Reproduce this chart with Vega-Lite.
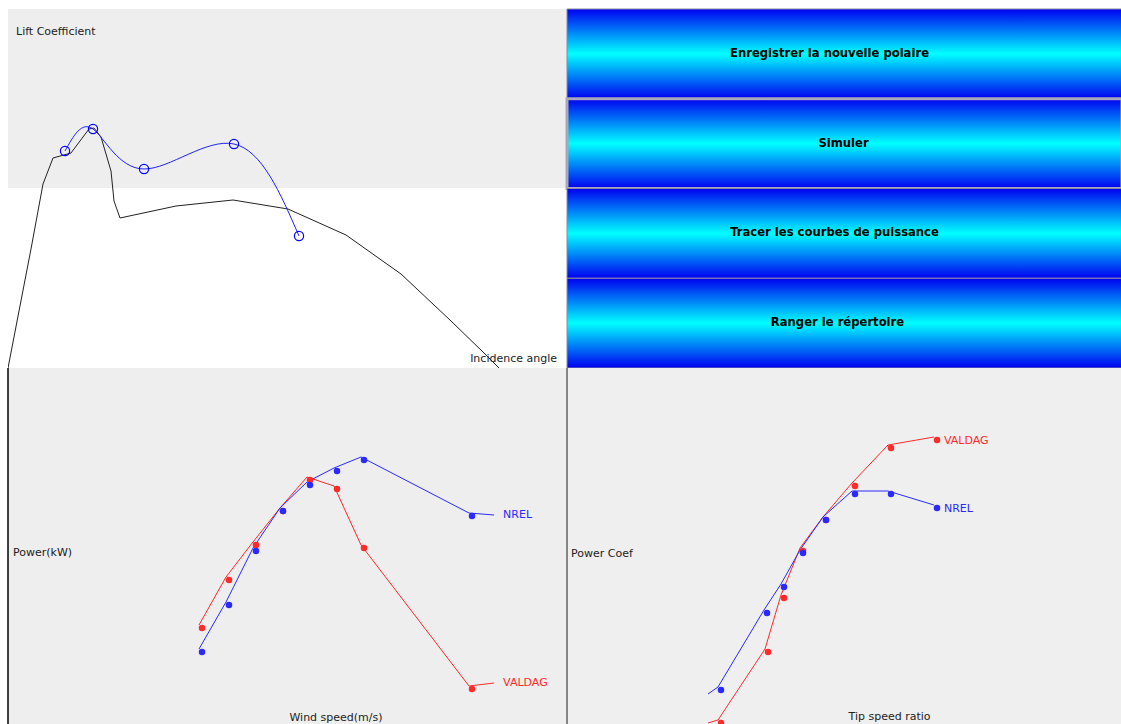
{
  "$schema": "https://vega.github.io/schema/vega-lite/v6.json",
  "background": "white",
  "padding": {"left": 7, "top": 8, "right": 0, "bottom": 0},
  "spacing": 0,
  "bounds": "flush",
  "columns": 2,
  "config": {
    "view": {"stroke": null},
    "axis": {"disable": true},
    "font": "DejaVu Sans"
  },
  "datasets": {
    "lift_ref": [
      {"angle": -3.3, "cl": -0.4467},
      {"angle": -1.0, "cl": 0.3467},
      {"angle": 0.2, "cl": 0.78},
      {"angle": 1.2, "cl": 0.9533},
      {"angle": 3.0, "cl": 0.9867},
      {"angle": 4.8, "cl": 1.1467},
      {"angle": 5.3, "cl": 1.1533},
      {"angle": 6.0, "cl": 1.0933},
      {"angle": 7.0, "cl": 0.8667},
      {"angle": 7.3, "cl": 0.6667},
      {"angle": 7.9, "cl": 0.5533},
      {"angle": 13.5, "cl": 0.6333},
      {"angle": 19.2, "cl": 0.6733},
      {"angle": 24.7, "cl": 0.6133},
      {"angle": 30.5, "cl": 0.44},
      {"angle": 36.0, "cl": 0.18},
      {"angle": 41.0, "cl": -0.1333},
      {"angle": 44.3, "cl": -0.3467},
      {"angle": 46.0, "cl": -0.46}
    ],
    "lift_new": [
      {"angle": 2.4, "cl": 1.0},
      {"angle": 5.2, "cl": 1.1467},
      {"angle": 10.3, "cl": 0.88},
      {"angle": 19.3, "cl": 1.0467},
      {"angle": 25.8, "cl": 0.4333}
    ],
    "buttons": [
      {"label": "Enregistrer la nouvelle polaire"},
      {"label": "Simuler"},
      {"label": "Tracer les courbes de puissance"},
      {"label": "Ranger le répertoire"}
    ],
    "power": [
      {"series": "VALDAG", "ws": 5, "p": 3.88, "role": "pt"},
      {"series": "VALDAG", "ws": 6, "p": 5.80, "role": "pt"},
      {"series": "VALDAG", "ws": 7, "p": 7.20, "role": "pt"},
      {"series": "VALDAG", "ws": 8, "p": 8.56, "role": "pt"},
      {"series": "VALDAG", "ws": 9, "p": 9.80, "role": "pt"},
      {"series": "VALDAG", "ws": 10, "p": 9.44, "role": "pt"},
      {"series": "VALDAG", "ws": 11, "p": 7.08, "role": "pt"},
      {"series": "VALDAG", "ws": 15, "p": 1.44, "role": "pt"},
      {"series": "VALDAG", "ws": 15.93, "p": 1.56, "role": "end"},
      {"series": "NREL", "ws": 5, "p": 2.92, "role": "pt"},
      {"series": "NREL", "ws": 6, "p": 4.80, "role": "pt"},
      {"series": "NREL", "ws": 7, "p": 6.96, "role": "pt"},
      {"series": "NREL", "ws": 8, "p": 8.56, "role": "pt"},
      {"series": "NREL", "ws": 9, "p": 9.60, "role": "pt"},
      {"series": "NREL", "ws": 10, "p": 10.16, "role": "pt"},
      {"series": "NREL", "ws": 11, "p": 10.60, "role": "pt"},
      {"series": "NREL", "ws": 15, "p": 8.36, "role": "pt"},
      {"series": "NREL", "ws": 15.93, "p": 8.28, "role": "end"}
    ],
    "cp": [
      {"series": "VALDAG", "tsr": 2.88, "cp": -0.0014, "role": "end"},
      {"series": "VALDAG", "tsr": 3.08, "cp": 0.0029, "role": "pt"},
      {"series": "VALDAG", "tsr": 4.02, "cp": 0.1043, "role": "pt"},
      {"series": "VALDAG", "tsr": 4.34, "cp": 0.1814, "role": "pt"},
      {"series": "VALDAG", "tsr": 4.72, "cp": 0.2486, "role": "pt"},
      {"series": "VALDAG", "tsr": 5.18, "cp": 0.2929, "role": "pt"},
      {"series": "VALDAG", "tsr": 5.76, "cp": 0.3414, "role": "pt"},
      {"series": "VALDAG", "tsr": 6.48, "cp": 0.3957, "role": "pt"},
      {"series": "VALDAG", "tsr": 7.40, "cp": 0.4071, "role": "pt"},
      {"series": "NREL", "tsr": 2.88, "cp": 0.04, "role": "end"},
      {"series": "NREL", "tsr": 3.08, "cp": 0.05, "role": "pt"},
      {"series": "NREL", "tsr": 4.00, "cp": 0.16, "role": "pt"},
      {"series": "NREL", "tsr": 4.34, "cp": 0.1971, "role": "pt"},
      {"series": "NREL", "tsr": 4.72, "cp": 0.2457, "role": "pt"},
      {"series": "NREL", "tsr": 5.18, "cp": 0.2929, "role": "pt"},
      {"series": "NREL", "tsr": 5.76, "cp": 0.33, "role": "pt"},
      {"series": "NREL", "tsr": 6.48, "cp": 0.33, "role": "pt"},
      {"series": "NREL", "tsr": 7.40, "cp": 0.31, "role": "pt"}
    ]
  },
  "concat": [
    {
      "width": 559,
      "height": 359,
      "layer": [
        {
          "data": {"values": [{}]},
          "mark": {"type": "rect", "color": "#eeeeee"},
          "encoding": {
            "x": {"datum": -3.3, "type": "quantitative", "scale": {"domain": [-3.3, 52.6], "nice": false, "zero": false}},
            "x2": {"datum": 52.6},
            "y": {"datum": 0.7533, "type": "quantitative", "scale": {"domain": [-0.4467, 1.9467], "nice": false, "zero": false}},
            "y2": {"datum": 1.9467}
          }
        },
        {
          "data": {"name": "lift_ref"},
          "mark": {"type": "line", "color": "#222222", "strokeWidth": 1, "clip": true},
          "encoding": {
            "x": {"field": "angle", "type": "quantitative", "scale": {"domain": [-3.3, 52.6], "nice": false, "zero": false}},
            "y": {"field": "cl", "type": "quantitative", "scale": {"domain": [-0.4467, 1.9467], "nice": false, "zero": false}}
          }
        },
        {
          "data": {"name": "lift_new"},
          "mark": {"type": "line", "color": "#2020ff", "strokeWidth": 1, "interpolate": "natural", "clip": true},
          "encoding": {
            "x": {"field": "angle", "type": "quantitative", "scale": {"domain": [-3.3, 52.6], "nice": false, "zero": false}},
            "y": {"field": "cl", "type": "quantitative", "scale": {"domain": [-0.4467, 1.9467], "nice": false, "zero": false}}
          }
        },
        {
          "data": {"name": "lift_new"},
          "mark": {"type": "point", "filled": false, "size": 85, "color": "#0000ff", "strokeWidth": 1.2, "opacity": 1},
          "encoding": {
            "x": {"field": "angle", "type": "quantitative", "scale": {"domain": [-3.3, 52.6], "nice": false, "zero": false}},
            "y": {"field": "cl", "type": "quantitative", "scale": {"domain": [-0.4467, 1.9467], "nice": false, "zero": false}}
          }
        },
        {
          "data": {"values": [{}]},
          "mark": {"type": "text", "text": "Lift Coefficient", "align": "left", "baseline": "middle", "fontSize": 11, "color": "#222222", "font": "DejaVu Sans"},
          "encoding": {
            "x": {"datum": -2.5, "type": "quantitative", "scale": {"domain": [-3.3, 52.6], "nice": false, "zero": false}},
            "y": {"datum": 1.7933, "type": "quantitative", "scale": {"domain": [-0.4467, 1.9467], "nice": false, "zero": false}}
          }
        },
        {
          "data": {"values": [{}]},
          "mark": {"type": "text", "text": "Incidence angle", "align": "right", "baseline": "middle", "fontSize": 11, "color": "#222222", "font": "DejaVu Sans"},
          "encoding": {
            "x": {"datum": 51.6, "type": "quantitative", "scale": {"domain": [-3.3, 52.6], "nice": false, "zero": false}},
            "y": {"datum": -0.3867, "type": "quantitative", "scale": {"domain": [-0.4467, 1.9467], "nice": false, "zero": false}}
          }
        }
      ]
    },
    {
      "width": 555,
      "height": 359,
      "data": {"name": "buttons"},
      "layer": [
        {
          "mark": {
            "type": "rect",
            "fill": {
              "x1": 0, "y1": 0, "x2": 0, "y2": 1,
              "gradient": "linear",
              "stops": [
                {"offset": 0, "color": "#0000f0"},
                {"offset": 0.5, "color": "#00ffff"},
                {"offset": 1, "color": "#0000f0"}
              ]
            }
          },
          "encoding": {
            "x": {"datum": 0, "type": "quantitative", "scale": {"domain": [0, 1], "nice": false, "zero": false}},
            "x2": {"datum": 1},
            "y": {"field": "label", "type": "nominal", "sort": null, "scale": {"type": "band", "paddingInner": 0, "paddingOuter": 0}},
            "stroke": {"condition": {"test": "datum.label === 'Simuler'", "value": "#a8a8b8"}, "value": "#8a8aa0"},
            "strokeWidth": {"condition": {"test": "datum.label === 'Simuler'", "value": 3}, "value": 1}
          }
        },
        {
          "transform": [{"filter": "datum.label === 'Enregistrer la nouvelle polaire'"}],
          "mark": {"type": "text", "fontWeight": "bold", "fontSize": 11.6, "color": "#000000", "font": "DejaVu Sans", "align": "center", "baseline": "middle", "dx": -15},
          "encoding": {
            "x": {"datum": 0.5, "type": "quantitative", "scale": {"domain": [0, 1], "nice": false, "zero": false}},
            "y": {"field": "label", "type": "nominal", "sort": null, "scale": {"type": "band", "paddingInner": 0, "paddingOuter": 0, "domain": ["Enregistrer la nouvelle polaire", "Simuler", "Tracer les courbes de puissance", "Ranger le répertoire"]}},
            "text": {"field": "label"}
          }
        },
        {
          "transform": [{"filter": "datum.label === 'Simuler'"}],
          "mark": {"type": "text", "fontWeight": "bold", "fontSize": 11.6, "color": "#000000", "font": "DejaVu Sans", "align": "center", "baseline": "middle", "dx": -1},
          "encoding": {
            "x": {"datum": 0.5, "type": "quantitative", "scale": {"domain": [0, 1], "nice": false, "zero": false}},
            "y": {"field": "label", "type": "nominal", "sort": null, "scale": {"type": "band", "paddingInner": 0, "paddingOuter": 0, "domain": ["Enregistrer la nouvelle polaire", "Simuler", "Tracer les courbes de puissance", "Ranger le répertoire"]}},
            "text": {"field": "label"}
          }
        },
        {
          "transform": [{"filter": "datum.label === 'Tracer les courbes de puissance'"}],
          "mark": {"type": "text", "fontWeight": "bold", "fontSize": 11.6, "color": "#000000", "font": "DejaVu Sans", "align": "center", "baseline": "middle", "dx": -10},
          "encoding": {
            "x": {"datum": 0.5, "type": "quantitative", "scale": {"domain": [0, 1], "nice": false, "zero": false}},
            "y": {"field": "label", "type": "nominal", "sort": null, "scale": {"type": "band", "paddingInner": 0, "paddingOuter": 0, "domain": ["Enregistrer la nouvelle polaire", "Simuler", "Tracer les courbes de puissance", "Ranger le répertoire"]}},
            "text": {"field": "label"}
          }
        },
        {
          "transform": [{"filter": "datum.label === 'Ranger le répertoire'"}],
          "mark": {"type": "text", "fontWeight": "bold", "fontSize": 11.6, "color": "#000000", "font": "DejaVu Sans", "align": "center", "baseline": "middle", "dx": -7},
          "encoding": {
            "x": {"datum": 0.5, "type": "quantitative", "scale": {"domain": [0, 1], "nice": false, "zero": false}},
            "y": {"field": "label", "type": "nominal", "sort": null, "scale": {"type": "band", "paddingInner": 0, "paddingOuter": 0, "domain": ["Enregistrer la nouvelle polaire", "Simuler", "Tracer les courbes de puissance", "Ranger le répertoire"]}},
            "text": {"field": "label"}
          }
        }
      ]
    },
    {
      "width": 559,
      "height": 357,
      "view": {"fill": "#eeeeee", "stroke": null},
      "layer": [
        {
          "data": {"values": [{}]},
          "mark": {"type": "rule", "color": "#000000", "strokeWidth": 1.5},
          "encoding": {
            "x": {"datum": -2.1852, "type": "quantitative", "scale": {"domain": [-2.1852, 18.5185], "nice": false, "zero": false}}
          }
        },
        {
          "data": {"name": "power"},
          "mark": {"type": "line", "strokeWidth": 1, "xOffset": -3, "yOffset": -3},
          "encoding": {
            "x": {"field": "ws", "type": "quantitative", "scale": {"domain": [-2.1852, 18.5185], "nice": false, "zero": false}},
            "y": {"field": "p", "type": "quantitative", "scale": {"domain": [0, 14.28], "nice": false, "zero": false}},
            "color": {"field": "series", "type": "nominal", "scale": {"domain": ["NREL", "VALDAG"], "range": ["#2a2aff", "#ff2a2a"]}, "legend": null},
            "detail": {"field": "series"}
          }
        },
        {
          "data": {"name": "power"},
          "transform": [{"filter": "datum.role === 'pt'"}],
          "mark": {"type": "point", "filled": true, "size": 42, "opacity": 1},
          "encoding": {
            "x": {"field": "ws", "type": "quantitative", "scale": {"domain": [-2.1852, 18.5185], "nice": false, "zero": false}},
            "y": {"field": "p", "type": "quantitative", "scale": {"domain": [0, 14.28], "nice": false, "zero": false}},
            "color": {"field": "series", "type": "nominal", "scale": {"domain": ["NREL", "VALDAG"], "range": ["#0000ff", "#ff0000"]}, "legend": null}
          }
        },
        {
          "data": {"name": "power"},
          "transform": [
            {"joinaggregate": [{"op": "max", "field": "ws", "as": "maxws"}], "groupby": ["series"]},
            {"filter": "datum.ws === datum.maxws"}
          ],
          "mark": {"type": "text", "align": "left", "baseline": "middle", "dx": 6, "dy": -3, "fontSize": 11, "font": "DejaVu Sans"},
          "encoding": {
            "x": {"field": "ws", "type": "quantitative", "scale": {"domain": [-2.1852, 18.5185], "nice": false, "zero": false}},
            "y": {"field": "p", "type": "quantitative", "scale": {"domain": [0, 14.28], "nice": false, "zero": false}},
            "text": {"field": "series"},
            "color": {"field": "series", "type": "nominal", "scale": {"domain": ["NREL", "VALDAG"], "range": ["#0000ff", "#ff0000"]}, "legend": null}
          }
        },
        {
          "data": {"values": [{}]},
          "mark": {"type": "text", "text": "Power(kW)", "align": "left", "baseline": "middle", "fontSize": 11, "color": "#222222", "font": "DejaVu Sans"},
          "encoding": {
            "x": {"datum": -2.0, "type": "quantitative", "scale": {"domain": [-2.1852, 18.5185], "nice": false, "zero": false}},
            "y": {"datum": 6.88, "type": "quantitative", "scale": {"domain": [0, 14.28], "nice": false, "zero": false}}
          }
        },
        {
          "data": {"values": [{}]},
          "mark": {"type": "text", "text": "Wind speed(m/s)", "align": "center", "baseline": "middle", "fontSize": 11, "color": "#222222", "font": "DejaVu Sans"},
          "encoding": {
            "x": {"datum": 9.963, "type": "quantitative", "scale": {"domain": [-2.1852, 18.5185], "nice": false, "zero": false}},
            "y": {"datum": 0.28, "type": "quantitative", "scale": {"domain": [0, 14.28], "nice": false, "zero": false}}
          }
        }
      ]
    },
    {
      "width": 555,
      "height": 357,
      "view": {"fill": "#efefef", "stroke": null},
      "layer": [
        {
          "data": {"name": "cp"},
          "mark": {"type": "line", "strokeWidth": 1, "xOffset": -3, "yOffset": -3, "clip": true},
          "encoding": {
            "x": {"field": "tsr", "type": "quantitative", "scale": {"domain": [0, 11.1], "nice": false, "zero": false}},
            "y": {"field": "cp", "type": "quantitative", "scale": {"domain": [0, 0.51], "nice": false, "zero": false}},
            "color": {"field": "series", "type": "nominal", "scale": {"domain": ["NREL", "VALDAG"], "range": ["#2a2aff", "#ff2a2a"]}, "legend": null},
            "detail": {"field": "series"}
          }
        },
        {
          "data": {"name": "cp"},
          "transform": [{"filter": "datum.role === 'pt'"}],
          "mark": {"type": "point", "filled": true, "size": 42, "opacity": 1, "clip": true},
          "encoding": {
            "x": {"field": "tsr", "type": "quantitative", "scale": {"domain": [0, 11.1], "nice": false, "zero": false}},
            "y": {"field": "cp", "type": "quantitative", "scale": {"domain": [0, 0.51], "nice": false, "zero": false}},
            "color": {"field": "series", "type": "nominal", "scale": {"domain": ["NREL", "VALDAG"], "range": ["#0000ff", "#ff0000"]}, "legend": null}
          }
        },
        {
          "data": {"name": "cp"},
          "transform": [
            {"joinaggregate": [{"op": "max", "field": "tsr", "as": "maxtsr"}], "groupby": ["series"]},
            {"filter": "datum.tsr === datum.maxtsr"}
          ],
          "mark": {"type": "text", "align": "left", "baseline": "middle", "dx": 7, "dy": 1, "fontSize": 11, "font": "DejaVu Sans"},
          "encoding": {
            "x": {"field": "tsr", "type": "quantitative", "scale": {"domain": [0, 11.1], "nice": false, "zero": false}},
            "y": {"field": "cp", "type": "quantitative", "scale": {"domain": [0, 0.51], "nice": false, "zero": false}},
            "text": {"field": "series"},
            "color": {"field": "series", "type": "nominal", "scale": {"domain": ["NREL", "VALDAG"], "range": ["#0000ff", "#ff0000"]}, "legend": null}
          }
        },
        {
          "data": {"values": [{}]},
          "mark": {"type": "rule", "color": "#858585", "strokeWidth": 2},
          "encoding": {
            "x": {"datum": 0, "type": "quantitative", "scale": {"domain": [0, 11.1], "nice": false, "zero": false}}
          }
        },
        {
          "data": {"values": [{}]},
          "mark": {"type": "text", "text": "Power Coef", "align": "left", "baseline": "middle", "fontSize": 11, "color": "#222222", "font": "DejaVu Sans"},
          "encoding": {
            "x": {"datum": 0.08, "type": "quantitative", "scale": {"domain": [0, 11.1], "nice": false, "zero": false}},
            "y": {"datum": 0.2443, "type": "quantitative", "scale": {"domain": [0, 0.51], "nice": false, "zero": false}}
          }
        },
        {
          "data": {"values": [{}]},
          "mark": {"type": "text", "text": "Tip speed ratio", "align": "center", "baseline": "middle", "fontSize": 11, "color": "#222222", "font": "DejaVu Sans"},
          "encoding": {
            "x": {"datum": 6.45, "type": "quantitative", "scale": {"domain": [0, 11.1], "nice": false, "zero": false}},
            "y": {"datum": 0.0114, "type": "quantitative", "scale": {"domain": [0, 0.51], "nice": false, "zero": false}}
          }
        }
      ]
    }
  ]
}
